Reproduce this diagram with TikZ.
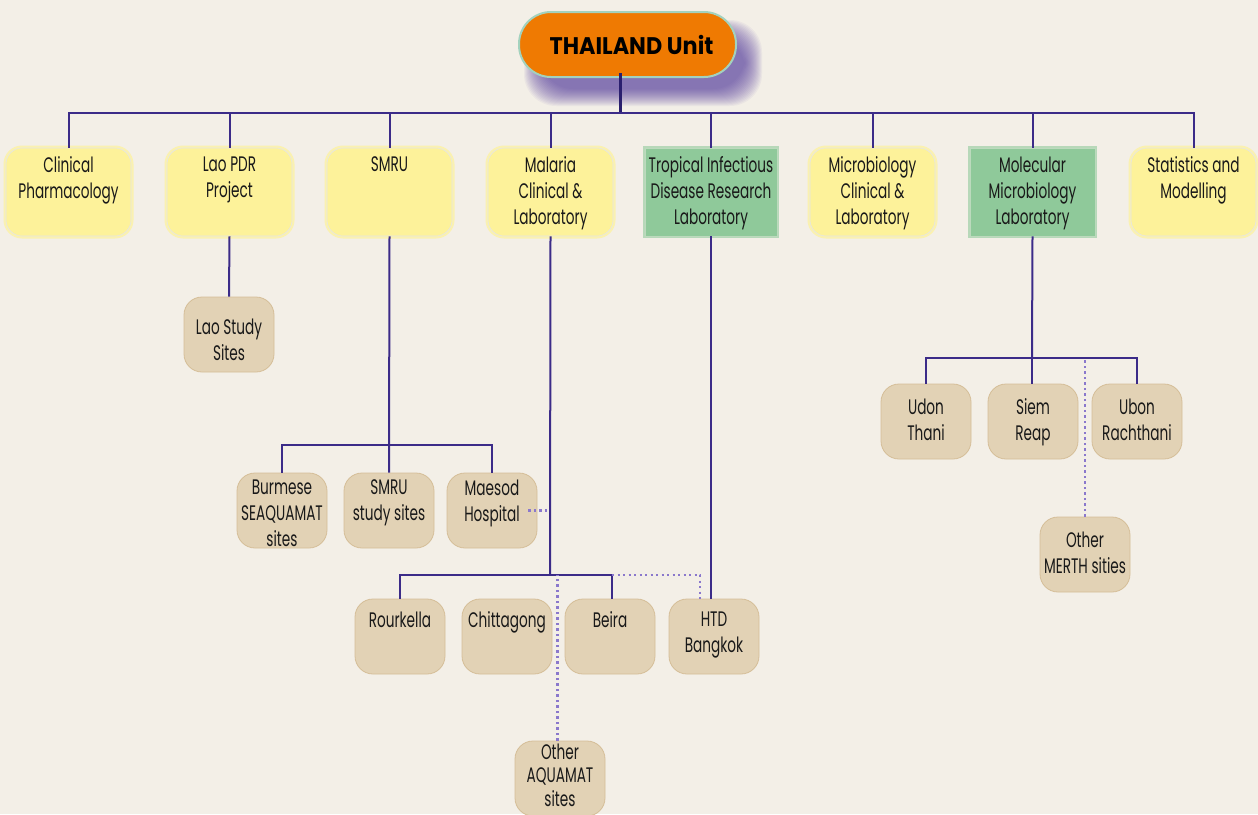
\documentclass[tikz,border=0pt]{standalone}
\usepackage{fontspec}
\setmainfont{Poppins}[FakeStretch=0.65]
\newfontfamily\titlefont{Poppins}[FakeStretch=0.93]
\usetikzlibrary{calc}

\definecolor{bg}{HTML}{F3EFE7}
\definecolor{wire}{HTML}{3B2B88}
\definecolor{stemc}{HTML}{2A1F6E}
\definecolor{dotc}{HTML}{8A78CC}
\definecolor{yel}{HTML}{FDF29A}
\definecolor{grn}{HTML}{8FC99A}
\definecolor{tanf}{HTML}{E2D2B5}
\definecolor{tanb}{HTML}{D5BE98}
\definecolor{org}{HTML}{EF7A02}
\definecolor{orgb}{HTML}{A3D2BE}
\definecolor{shad}{HTML}{4B2F9A}

% label text placed near the top of its box
\newcommand\boxlabel[3]{\node[lbl] (#1-t) at ([yshift=-#2pt]#1.north) {#3};}

\begin{document}
\begin{tikzpicture}[x=1pt,y=-1pt,
  wire/.style={draw=wire, line width=2pt},
  stemline/.style={draw=stemc, line width=3pt},
  dotline/.style={draw=dotc, line width=2.3pt, dash pattern=on 2.2pt off 3.3pt},
  lbl/.style={anchor=north, inner sep=0pt, align=center,
    font=\fontsize{21}{26}\selectfont, text=black!90},
  unitbox/.style={rounded corners=32pt, minimum width=217pt, minimum height=65pt,
    fill=org, draw=orgb, line width=2pt, inner sep=0pt,
    font=\titlefont\bfseries\fontsize{24}{28}\selectfont},
  yelbox/.style={rounded corners=16pt, minimum width=125pt, minimum height=88pt,
    fill=yel, draw=black!10, line width=0.6pt, inner sep=0pt,
    preaction={draw=yel!70!bg, line width=5pt}},
  grnbox/.style={minimum width=125pt, minimum height=88pt, inner sep=0pt,
    fill=grn, draw=grn!55!bg, line width=0.6pt,
    preaction={draw=grn!60!bg, line width=4pt}},
  tanbox/.style={rounded corners=18pt, minimum width=90pt, minimum height=75pt,
    fill=tanf, draw=tanb, line width=0.8pt, inner sep=0pt}
]
\useasboundingbox (0,0) rectangle (1258,814);
\fill[bg] (0,0) rectangle (1258,814);

% soft purple shadow under the title, offset to the lower right
\foreach \i in {0,...,17}
  \fill[shad, opacity=0.05, rounded corners=32pt]
    (524+\i, 20+\i) rectangle (762-\i, 106-\i);

% title
\node[unitbox] (unit) at (627.5,44.5) {\hspace{8pt}THAILAND Unit};

% first level
\node[yelbox] (cp)  at (68.5,192)  {};
\node[yelbox] (lao) at (229.5,192) {};
\node[yelbox] (smru) at (389.5,192) {};
\node[yelbox] (mal) at (550.5,192) {};
\node[grnbox, minimum width=132pt] (tid) at (711,192) {};
\node[yelbox] (mcl) at (872.5,192) {};
\node[grnbox] (mml) at (1032.5,192) {};
\node[yelbox] (sm)  at (1193.5,192) {};

\boxlabel{cp}{9}{Clinical\\Pharmacology}
\boxlabel{lao}{9}{Lao PDR\\Project}
\boxlabel{smru}{9}{SMRU}
\boxlabel{mal}{9}{Malaria\\Clinical \&\\Laboratory}
\boxlabel{tid}{9}{Tropical Infectious\\Disease Research\\Laboratory}
\boxlabel{mcl}{9}{Microbiology\\Clinical \&\\Laboratory}
\boxlabel{mml}{9}{Molecular\\Microbiology\\Laboratory}
\boxlabel{sm}{9}{Statistics and\\Modelling}

% sites
\node[tanbox] (lss) at (229,334.5) {};
\node[tanbox] (bur) at (282,510.5) {};
\node[tanbox] (sss) at (389,510.5) {};
\node[tanbox] (mae) at (492,510.5) {};
\node[tanbox] (rou) at (400,636.5) {};
\node[tanbox] (chi) at (507,636.5) {};
\node[tanbox] (bei) at (610,636.5) {};
\node[tanbox] (htd) at (714,636.5) {};
\node[tanbox] (oaq) at (560,778.5) {};
\node[tanbox] (udo) at (926,421.5) {};
\node[tanbox] (sie) at (1033,421.5) {};
\node[tanbox] (ubo) at (1137,421.5) {};
\node[tanbox] (ome) at (1085,554.5) {};

\boxlabel{lss}{22}{Lao Study\\Sites}
\boxlabel{bur}{7}{Burmese\\SEAQUAMAT\\sites}
\boxlabel{sss}{7}{SMRU\\study sites}
\boxlabel{mae}{7}{Maesod\\Hospital}
\boxlabel{rou}{13}{Rourkella}
\boxlabel{chi}{13}{Chittagong}
\boxlabel{bei}{13}{Beira}
\boxlabel{htd}{13}{HTD\\Bangkok}
\node[lbl, font=\fontsize{21}{23.5}\selectfont] (oaq-t)
  at ([yshift=-3pt]oaq.north) {Other\\AQUAMAT\\sites};
\boxlabel{udo}{15}{Udon\\Thani}
\boxlabel{sie}{15}{Siem\\Reap}
\boxlabel{ubo}{15}{Ubon\\Rachthani}
\boxlabel{ome}{15}{Other\\MERTH sities}

% junction points
\coordinate (bus)   at (620,113);
\coordinate (smbus) at (389,445);
\coordinate (mbus)  at (550,575);
\coordinate (molbus) at (1032,358);

% main bus
\draw[stemline] ([yshift=5pt]unit.south -| bus) -- (bus);
\draw[wire] (cp.north) -- (cp.north |- bus) -- (sm.north |- bus) -- (sm.north);
\foreach \n in {lao,smru,mal,tid,mcl,mml}
  \draw[wire] (\n.north |- bus) -- (\n.north);

% Lao PDR
\draw[wire] (lao.south) -- (lss.north);

% SMRU
\draw[wire] (smru.south) -- (sss.north);
\draw[wire] (bur.north) -- (bur.north |- smbus) -- (mae.north |- smbus) -- (mae.north);

% Malaria
\draw[wire] (mal.south) -- (mbus);
\draw[wire] (rou.north) -- (rou.north |- mbus) -- ([xshift=2pt]bei.north |- mbus) -- ([xshift=2pt]bei.north);
\draw[dotline] ([xshift=2pt]bei.north |- mbus) -| ([xshift=-14pt]htd.north);
\draw[dotline] ([xshift=-2.5pt]oaq.north) -- ([xshift=-2.5pt]oaq.north |- mbus);
\draw[dotline] ([xshift=-9pt]mae.east) -- (mae.east -| mbus);

% Tropical ID lab
\draw[wire] (tid.south) -- (tid.south |- htd.north);

% Molecular microbiology
\draw[wire] (mml.south) -- (molbus);
\draw[wire] (udo.north) -- (udo.north |- molbus) -- (ubo.north |- molbus) -- (ubo.north);
\draw[wire] (molbus) -- (molbus |- sie.north);
\draw[dotline] (ome.north) -- (ome.north |- molbus);
\end{tikzpicture}
\end{document}
